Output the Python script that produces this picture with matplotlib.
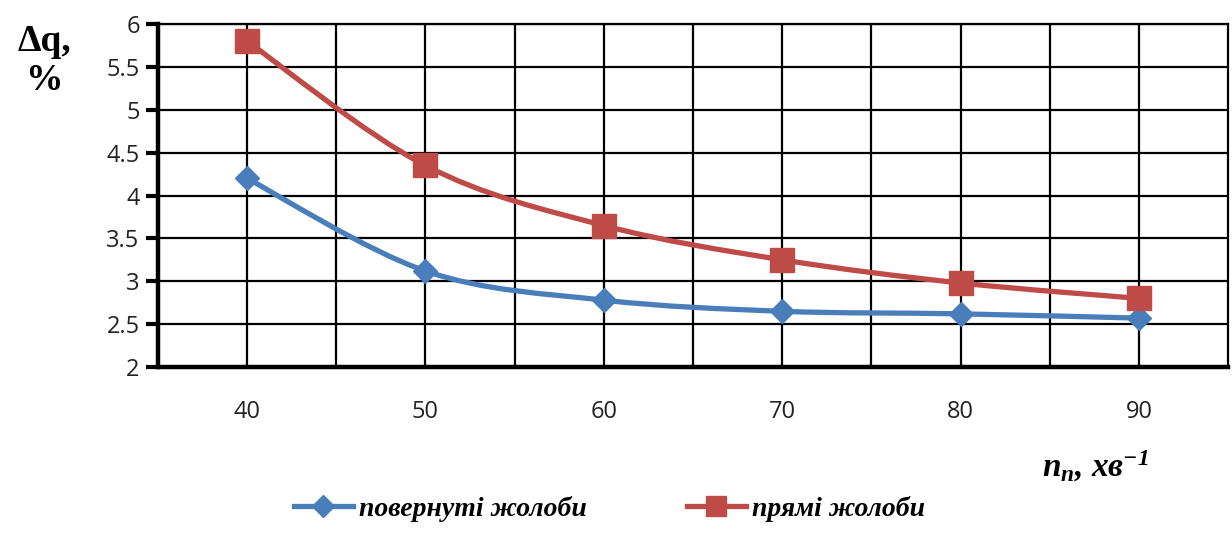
import matplotlib
matplotlib.use("Agg")
import matplotlib.pyplot as plt
from matplotlib.path import Path
from matplotlib.patches import PathPatch
from matplotlib.lines import Line2D
import numpy as np

n_values = [40, 50, 60, 70, 80, 90]
rotated = [4.20, 3.12, 2.78, 2.65, 2.62, 2.57]   # повернуті жолоби
straight = [5.80, 4.35, 3.65, 3.25, 2.98, 2.80]  # прямі жолоби
y_ticks = [2, 2.5, 3, 3.5, 4, 4.5, 5, 5.5, 6]
y_tick_labels = ["2", "2.5", "3", "3.5", "4", "4.5", "5", "5.5", "6"]
series_labels = ["повернуті жолоби", "прямі жолоби"]

BLUE = "#4A7EBB"
RED = "#BE4B48"

plt.rcParams["mathtext.fontset"] = "custom"
plt.rcParams["mathtext.it"] = "Liberation Serif:bold:italic"
plt.rcParams["mathtext.rm"] = "Liberation Serif:bold:italic"
plt.rcParams["mathtext.bf"] = "Liberation Serif:bold:italic"

fig = plt.figure(figsize=(12.32, 5.33), dpi=100)
ax = fig.add_axes([0.128, 0.3114, 0.869, 0.6436])


def smooth_path(xs, ys):
    # Excel-style smoothed line: cubic Bezier segments (Catmull-Rom control points)
    pts = np.column_stack([xs, ys]).astype(float)
    verts = [pts[0]]
    codes = [Path.MOVETO]
    n = len(pts)
    for i in range(n - 1):
        p0 = pts[i - 1] if i > 0 else pts[i]
        p1 = pts[i]
        p2 = pts[i + 1]
        p3 = pts[i + 2] if i + 2 < n else pts[i + 1]
        c1 = p1 + (p2 - p0) / 6.0
        c2 = p2 - (p3 - p1) / 6.0
        verts += [c1, c2, p2]
        codes += [Path.CURVE4] * 3
    return Path(verts, codes)


for ys, col, mk, ms in [(rotated, BLUE, "D", 12), (straight, RED, "s", 17)]:
    patch = PathPatch(smooth_path(n_values, ys), facecolor="none", edgecolor=col,
                      lw=3.8, zorder=3, capstyle="round", joinstyle="round")
    ax.add_patch(patch)
    ax.plot(n_values, ys, linestyle="none", marker=mk, markersize=ms,
            color=col, markeredgecolor=col, zorder=4)

ax.set_xlim(35, 95)
ax.set_ylim(2, 6)
ax.set_yticks(y_ticks)
ax.set_yticklabels(y_tick_labels)
ax.set_xticks(n_values)
ax.set_xticklabels([str(v) for v in n_values])
ax.set_xticks([45, 55, 65, 75, 85], minor=True)
ax.grid(True, which="both", axis="x", color="black", lw=1.6)
ax.grid(True, which="major", axis="y", color="black", lw=1.6)
ax.set_axisbelow(True)

for s in ["top", "right"]:
    ax.spines[s].set_linewidth(1.6)
    ax.spines[s].set_color("black")
for s in ["left", "bottom"]:
    ax.spines[s].set_linewidth(3.2)
    ax.spines[s].set_color("black")

ax.tick_params(axis="y", which="major", length=9, width=3, direction="out",
               labelsize=17, pad=4, colors="black")
ax.tick_params(axis="x", which="both", length=0, labelsize=17, pad=24)
for lab in ax.get_xticklabels() + ax.get_yticklabels():
    lab.set_fontfamily("Open Sans")
    lab.set_color("#222222")

fig.text(0.036, 0.955, "Δq,\n%", ha="center", va="top", fontsize=27,
         fontfamily="Liberation Serif", fontweight="bold", linespacing=1.15)

fig.text(0.889, 0.125, r"$n_{n}$, хв$^{-1}$", ha="center", va="center",
         fontsize=24, fontfamily="Liberation Serif", fontweight="bold",
         fontstyle="italic")

handles = [Line2D([], [], color=BLUE, lw=3.8, marker="D", markersize=11),
           Line2D([], [], color=RED, lw=3.8, marker="s", markersize=15)]
fig.legend(handles, series_labels, loc="center", bbox_to_anchor=(0.495, 0.045),
           ncol=2, frameon=False, handlelength=2.1, handletextpad=0.25,
           columnspacing=3.6,
           prop={"family": "Liberation Serif", "weight": "bold",
                 "style": "italic", "size": 20})

fig.savefig("out.png", dpi=100, facecolor="white")
